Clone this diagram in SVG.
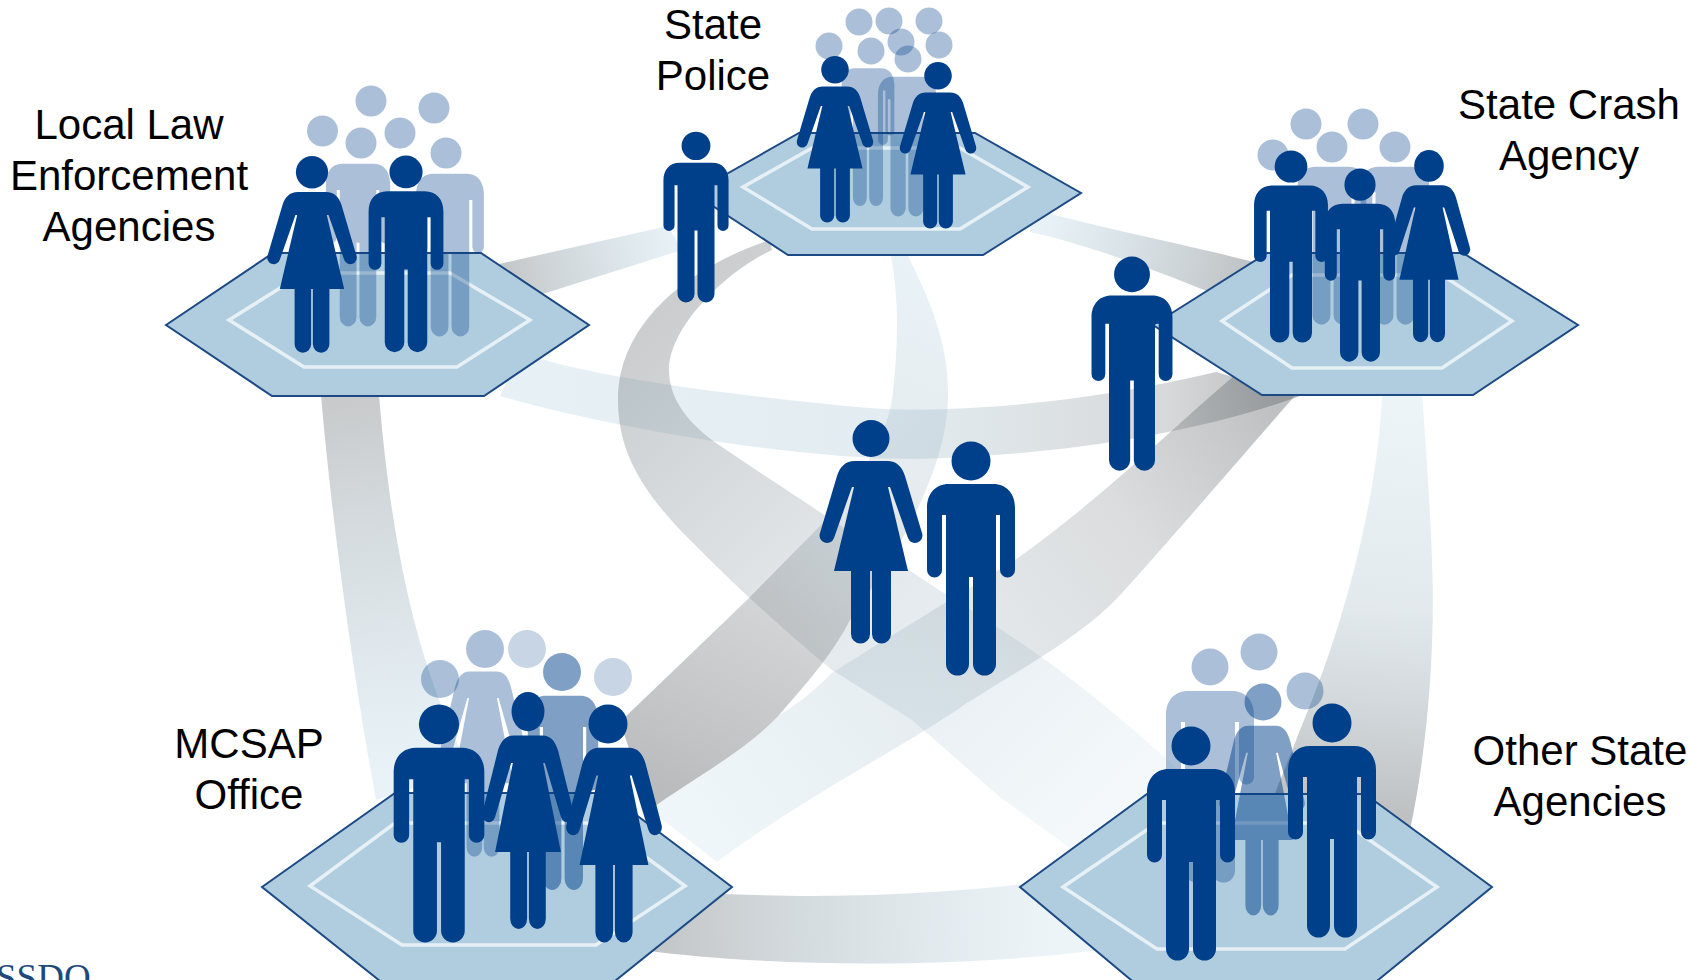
<svg xmlns="http://www.w3.org/2000/svg" width="1690" height="980" viewBox="0 0 1690 980">
<style>
.lbl{font-family:"Liberation Sans",Arial,sans-serif;font-size:42px;fill:#000;text-anchor:middle}
.hex{fill:#b0cde0;stroke:#1d4a84;stroke-width:2}
.inner{fill:none;stroke:#e6f0f5;stroke-width:3.5}
.p{fill:#00408a}
.b{fill:#00408a;opacity:.33}
.b2{fill:#00408a;opacity:.5}
.b3{fill:#00408a;opacity:.22}
</style>
<defs>
<path id="mbody" d="M-22,42 H22 C36,42 44,52 44,66 V128 A7.5,7.5 0 0 1 29,128 V73 H25 V222 A11.5,11.5 0 0 1 2,222 V135 H-2 V222 A11.5,11.5 0 0 1 -25,222 V73 H-29 V128 A7.5,7.5 0 0 1 -44,128 V66 C-44,52 -36,42 -22,42 Z"/>
<path id="wbody" d="M-16,41 H16 C26,41 31,47 34,56 L51,113 A7,7 0 0 1 37,118 L19,67 H17 L37,151 H20 V214 A9.5,9.5 0 0 1 1,214 V151 H-1 V214 A9.5,9.5 0 0 1 -20,214 V151 H-37 L-17,67 H-19 L-37,118 A7,7 0 0 1 -51,113 L-34,56 C-31,47 -26,41 -16,41 Z"/>
<g id="man"><circle cx="0" cy="19" r="19.5"/><use href="#mbody"/></g>
<g id="woman"><circle cx="0" cy="18.5" r="18.5"/><use href="#wbody"/></g>
<linearGradient id="g1" gradientUnits="userSpaceOnUse" x1="500" y1="280" x2="680" y2="235"><stop offset="0" stop-color="#6f7477" stop-opacity=".42"/><stop offset="1" stop-color="#8fbdd6" stop-opacity=".2"/></linearGradient>
<linearGradient id="g2" gradientUnits="userSpaceOnUse" x1="1040" y1="220" x2="1250" y2="280"><stop offset="0" stop-color="#8fbdd6" stop-opacity=".2"/><stop offset="1" stop-color="#6f7477" stop-opacity=".45"/></linearGradient>
<linearGradient id="g3" gradientUnits="userSpaceOnUse" x1="500" y1="380" x2="1290" y2="400"><stop offset="0" stop-color="#8fbdd6" stop-opacity=".22"/><stop offset=".5" stop-color="#8fb3c4" stop-opacity=".25"/><stop offset=".85" stop-color="#6f7477" stop-opacity=".28"/><stop offset="1" stop-color="#6f7477" stop-opacity=".5"/></linearGradient>
<linearGradient id="g4" gradientUnits="userSpaceOnUse" x1="680" y1="300" x2="1140" y2="790"><stop offset="0" stop-color="#6f7477" stop-opacity=".36"/><stop offset=".4" stop-color="#7d8f9c" stop-opacity=".24"/><stop offset="1" stop-color="#8fbdd6" stop-opacity=".1"/></linearGradient>
<linearGradient id="g5" gradientUnits="userSpaceOnUse" x1="900" y1="260" x2="650" y2="780"><stop offset="0" stop-color="#8fbdd6" stop-opacity=".2"/><stop offset=".35" stop-color="#7f9cac" stop-opacity=".2"/><stop offset=".62" stop-color="#6f7477" stop-opacity=".3"/><stop offset="1" stop-color="#5c5f61" stop-opacity=".42"/></linearGradient>
<linearGradient id="g6" gradientUnits="userSpaceOnUse" x1="1260" y1="390" x2="690" y2="830"><stop offset="0" stop-color="#6f7477" stop-opacity=".45"/><stop offset=".25" stop-color="#6f7477" stop-opacity=".25"/><stop offset=".6" stop-color="#7d9cac" stop-opacity=".2"/><stop offset="1" stop-color="#8fbdd6" stop-opacity=".14"/></linearGradient>
<linearGradient id="g7" gradientUnits="userSpaceOnUse" x1="350" y1="400" x2="400" y2="770"><stop offset="0" stop-color="#6f7477" stop-opacity=".38"/><stop offset="1" stop-color="#8fbdd6" stop-opacity=".2"/></linearGradient>
<linearGradient id="g8" gradientUnits="userSpaceOnUse" x1="1400" y1="400" x2="1360" y2="810"><stop offset="0" stop-color="#8fbdd6" stop-opacity=".16"/><stop offset=".5" stop-color="#7f9cac" stop-opacity=".22"/><stop offset="1" stop-color="#6f7477" stop-opacity=".45"/></linearGradient>
<linearGradient id="g9" gradientUnits="userSpaceOnUse" x1="650" y1="930" x2="1060" y2="920"><stop offset="0" stop-color="#6f7477" stop-opacity=".42"/><stop offset="1" stop-color="#8fbdd6" stop-opacity=".16"/></linearGradient>
</defs>
<rect width="1690" height="980" fill="#fff"/>
<g id="connectors">
<path fill="url(#g1)" d="M490,266 L668,226 L682,250 L530,298 Z"/>
<path fill="url(#g2)" d="M1030,208 C1090,226 1190,245 1265,265 L1240,305 C1170,275 1090,245 1030,232 Z"/>
<path fill="url(#g3)" d="M520,352 C590,378 730,395 868,408 C957,414 1091,402 1216,372 L1300,396 C1190,436 1050,456 912,459 C780,458 600,425 500,396 Z"/>
<path fill="url(#g4)" d="M770,240 C713,258 618,310 618,400 C618,450 640,490 690,540 C720,570 760,610 832,670 L912,720 L1000,797 L1100,870 L1190,780 C1090,690 1047,657 939,590 C880,550 830,520 719,445 C690,425 669,400 669,370 C669,330 720,275 772,250 Z"/>
<path fill="url(#g5)" d="M890,250 C900,300 898,350 892,400 C885,440 860,480 819,527 L747,600 L620,722 L650,810 C690,780 745,752 779,715 C810,680 835,650 850,620 C900,550 946,470 948,400 C950,340 925,290 905,250 Z"/>
<path fill="url(#g6)" d="M1235,375 C1170,430 1100,500 1015,560 C950,600 900,630 832,673 C815,690 797,705 779,715 C745,752 690,780 650,810 L717,862 C800,800 880,760 957,710 C1000,680 1080,640 1122,593 C1170,540 1230,470 1300,390 Z"/>
<path fill="url(#g7)" d="M321,395 C330,500 350,660 376,800 L470,770 C430,690 395,590 379,395 Z"/>
<path fill="url(#g8)" d="M1382,392 C1380,470 1355,600 1300,730 C1285,770 1275,790 1270,810 L1410,830 C1425,760 1436,660 1432,560 C1430,500 1426,450 1422,392 Z"/>
<path fill="url(#g9)" d="M700,893 C790,897 900,900 1060,880 L1100,950 C960,968 780,968 640,950 Z"/>
</g>

<g id="node-local">
<polygon class="hex" points="166,325 273,253 481,253 589,325 484,396 272,396"/>
<polygon class="inner" points="229,320 304,273 450,273 530,320 457,367 304,367"/>
<circle class="b" cx="371" cy="101" r="15.5"/><circle class="b" cx="434" cy="108" r="15.5"/><circle class="b" cx="322.5" cy="131" r="15.5"/><circle class="b" cx="361" cy="143" r="15.5"/><circle class="b" cx="400" cy="133" r="15.5"/><circle class="b" cx="446" cy="153" r="15.5"/>
<use class="b" href="#mbody" transform="translate(358,128) scale(.73,.85)"/>
<use class="b" href="#mbody" transform="translate(450,138) scale(.77,.85)"/>
<use class="p" href="#woman" transform="translate(312,156) scale(.87,.88)"/>
<use class="p" href="#man" transform="translate(406,156) scale(.85,.84)"/>
<text class="lbl" x="129" y="139">Local Law</text>
<text class="lbl" x="129" y="190">Enforcement</text>
<text class="lbl" x="129" y="241">Agencies</text>
</g>

<g id="node-police">
<polygon class="hex" points="693,193 799,133 975,133 1081,193 983,255 788,255"/>
<polygon class="inner" points="743,187 812,148 960,148 1028,187 960,229 812,229"/>
<circle class="b" cx="859" cy="22" r="13.5"/><circle class="b" cx="889" cy="21" r="13.5"/><circle class="b" cx="929" cy="21" r="13.5"/><circle class="b" cx="829" cy="46" r="13.5"/><circle class="b" cx="871" cy="51" r="13.5"/><circle class="b" cx="901" cy="42" r="13.5"/><circle class="b" cx="939" cy="45" r="13.5"/><circle class="b" cx="908" cy="59" r="13.5"/>
<use class="b" href="#mbody" transform="translate(868,38) scale(.6,.72)"/>
<use class="b" href="#mbody" transform="translate(907,46) scale(.66,.73)"/>
<use class="p" href="#woman" transform="translate(835,56) scale(.745,.745)"/>
<use class="p" href="#woman" transform="translate(938,62) scale(.745,.745)"/>
<use class="p" href="#man" transform="translate(696,132) scale(.74,.73)"/>
<text class="lbl" x="713" y="39">State</text>
<text class="lbl" x="713" y="90">Police</text>
</g>

<g id="node-crash">
<polygon class="hex" points="1153,325 1267,253 1463,253 1578,325 1473,395 1262,395"/>
<polygon class="inner" points="1222,321 1292,275 1442,275 1512,321 1442,368 1292,368"/>
<circle class="b" cx="1306" cy="124" r="15.5"/><circle class="b" cx="1363" cy="124" r="15.5"/><circle class="b" cx="1273" cy="155" r="15.5"/><circle class="b" cx="1332" cy="147" r="15.5"/><circle class="b" cx="1395" cy="147" r="15.5"/>
<use class="b" href="#mbody" transform="translate(1332,132) scale(.78,.825)"/>
<use class="b" href="#mbody" transform="translate(1395,132) scale(.78,.825)"/>
<use class="p" href="#man" transform="translate(1291,151) scale(.84,.82)"/>
<use class="p" href="#man" transform="translate(1360,169) scale(.8,.825)"/>
<use class="p" href="#woman" transform="translate(1429,150) scale(.8,.86)"/>
<use class="p" href="#man" transform="translate(1132,257) scale(.92,.915)"/>
<text class="lbl" x="1569" y="119">State Crash</text>
<text class="lbl" x="1569" y="170">Agency</text>
</g>

<g id="node-mcsap">
<polygon class="hex" points="262,887 395,793 607,793 732,887 610,985 385,985"/>
<polygon class="inner" points="310,886 395,823 600,823 685,886 596,945 402,945"/>
<circle class="b" cx="440" cy="679" r="19"/>
<circle class="b" cx="485" cy="649" r="19"/>
<circle class="b3" cx="527" cy="649" r="19"/>
<circle class="b2" cx="562" cy="672" r="19"/>
<circle class="b3" cx="613" cy="677" r="19"/>
<use class="b" href="#wbody" transform="translate(483,630) scale(.82,1.015)"/>
<use class="b2" href="#mbody" transform="translate(563,653) scale(.8,1.015)"/>
<use class="p" href="#man" transform="translate(439,705) scale(1.03,1.017)"/>
<use class="p" href="#woman" transform="translate(528,692) scale(.89,1.06)"/>
<circle class="p" cx="608" cy="724" r="19.5"/>
<use class="p" href="#wbody" transform="translate(614,704) scale(.93,1.067)"/>
<text class="lbl" x="249" y="758">MCSAP</text>
<text class="lbl" x="249" y="809">Office</text>
</g>

<g id="node-other">
<polygon class="hex" points="1020,887 1147,794 1365,794 1492,887 1372,985 1137,985"/>
<polygon class="inner" points="1063,887 1157,823 1345,823 1437,887 1345,949 1157,949"/>
<circle class="b" cx="1210" cy="667" r="18.5"/>
<circle class="b" cx="1259" cy="652" r="18.5"/>
<circle class="b2" cx="1263" cy="702" r="18.5"/>
<circle class="b" cx="1305" cy="691" r="18.5"/>
<use class="b" href="#mbody" transform="translate(1210,649)"/>
<use class="b2" href="#wbody" transform="translate(1262,683) scale(.83,1.04)"/>
<use class="p" href="#man" transform="translate(1191,727)"/>
<use class="p" href="#man" transform="translate(1332,704)"/>
<text class="lbl" x="1580" y="765">Other State</text>
<text class="lbl" x="1580" y="816">Agencies</text>
</g>

<g id="node-center-woman"><use class="p" href="#woman" transform="translate(871,420)"/></g>
<g id="node-center-man"><use class="p" href="#man" transform="translate(971,442)"/></g>
<text x="-4" y="990" font-family="'Liberation Serif','Times New Roman',serif" font-size="37" fill="#1d4a7a">SSDO</text>
</svg>
